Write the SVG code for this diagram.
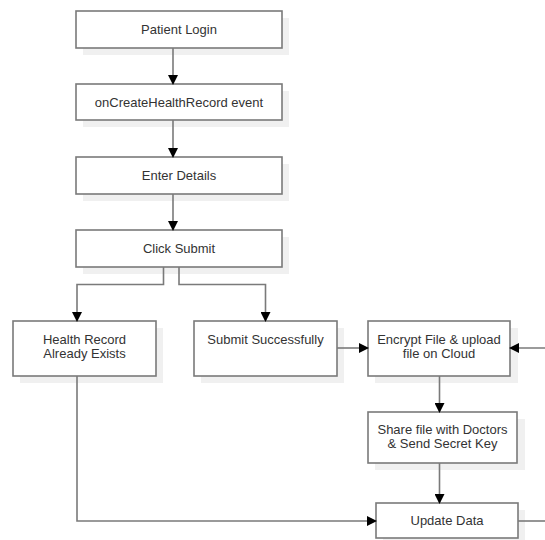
<svg xmlns="http://www.w3.org/2000/svg" width="545" height="540" viewBox="0 0 545 540">
<defs>
<marker id="arr" markerWidth="10" markerHeight="10" refX="9" refY="5" orient="auto" markerUnits="userSpaceOnUse">
<path d="M0,0 L10,5 L0,10 Z" fill="#000"/>
</marker>
<style>
.box{fill:#fff;stroke:#7a7a7a;stroke-width:1.6}
.sh{fill:#f0f0f0}
.t{font-family:"Liberation Sans",Arial,sans-serif;font-size:13px;fill:#333;text-anchor:middle}
.c{fill:none;stroke:#7a7a7a;stroke-width:1.6}
</style>
</defs>
<rect width="545" height="540" fill="#fff"/>
<g id="n1"><rect class="sh" x="83" y="18" width="206" height="37"/><rect class="box" x="76" y="11" width="206" height="37"/><text class="t" x="179" y="34">Patient Login</text></g>
<g id="n2"><rect class="sh" x="83" y="91" width="206" height="36"/><rect class="box" x="76" y="84" width="206" height="36"/><text class="t" x="179" y="106.5">onCreateHealthRecord event</text></g>
<g id="n3"><rect class="sh" x="83" y="164" width="206" height="37"/><rect class="box" x="76" y="157" width="206" height="37"/><text class="t" x="179" y="179.5">Enter Details</text></g>
<g id="n4"><rect class="sh" x="83" y="237" width="206" height="37"/><rect class="box" x="76" y="230" width="206" height="37"/><text class="t" x="179" y="252.5">Click Submit</text></g>
<g id="n5"><rect class="sh" x="20" y="328" width="143" height="55"/><rect class="box" x="13" y="321" width="143" height="55"/><text class="t" x="84.5" y="344">Health Record</text><text class="t" x="84.5" y="358">Already Exists</text></g>
<g id="n6"><rect class="sh" x="201" y="328" width="143" height="55"/><rect class="box" x="194" y="321" width="143" height="55"/><text class="t" x="265.5" y="344">Submit Successfully</text></g>
<g id="n7"><rect class="sh" x="375" y="328" width="143" height="55"/><rect class="box" x="368" y="321" width="142" height="55"/><text class="t" x="439" y="344">Encrypt File &amp; upload</text><text class="t" x="439" y="358">file on Cloud</text></g>
<g id="n8"><rect class="sh" x="375" y="419" width="150" height="51"/><rect class="box" x="368" y="412" width="149" height="51"/><text class="t" x="442.5" y="434">Share file with Doctors</text><text class="t" x="442.5" y="448">&amp; Send Secret Key</text></g>
<g id="n9"><rect class="sh" x="383" y="510" width="142" height="35"/><rect class="box" x="376" y="503" width="142" height="35"/><text class="t" x="447" y="525">Update Data</text></g>
<g id="connectors">
<path class="c" d="M173,48 V84" marker-end="url(#arr)"/>
<path class="c" d="M173,120 V157" marker-end="url(#arr)"/>
<path class="c" d="M173,194 V230" marker-end="url(#arr)"/>
<path class="c" d="M163.5,267 V284.5 H77 V321" marker-end="url(#arr)"/>
<path class="c" d="M179,267 V284.5 H265.5 V321" marker-end="url(#arr)"/>
<path class="c" d="M337,348 H368" marker-end="url(#arr)"/>
<path class="c" d="M545,348 H510" marker-end="url(#arr)"/>
<path class="c" d="M439.5,376 V412" marker-end="url(#arr)"/>
<path class="c" d="M439.5,463 V503" marker-end="url(#arr)"/>
<path class="c" d="M77,376 V521 H376" marker-end="url(#arr)"/>
<path class="c" d="M518,521 H545"/>
</g>
</svg>
